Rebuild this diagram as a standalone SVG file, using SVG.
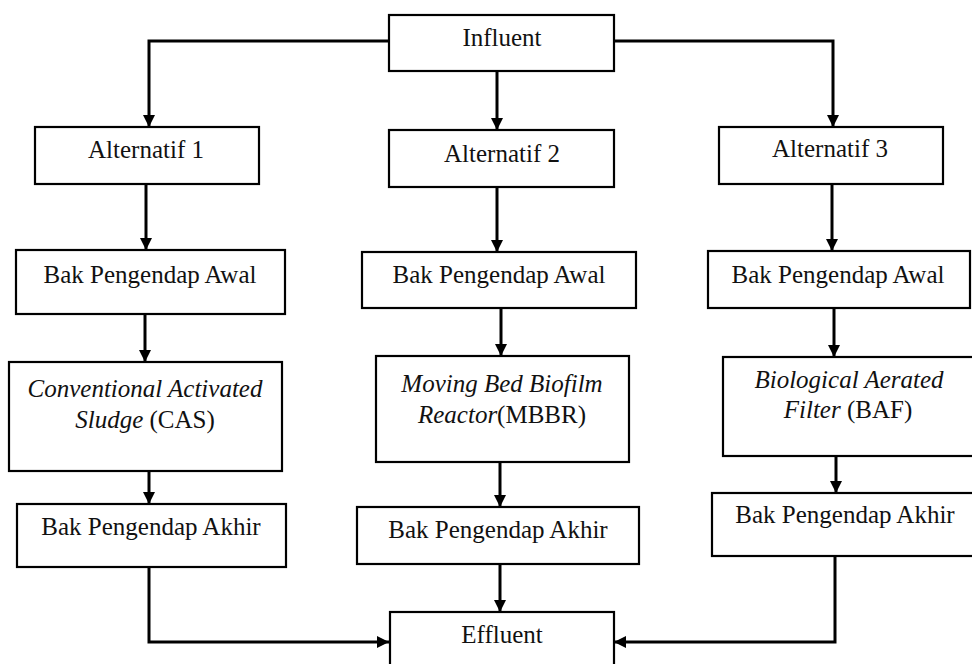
<svg xmlns="http://www.w3.org/2000/svg" width="972" height="664" viewBox="0 0 972 664">
<style>
.box{fill:#fff;stroke:#000;stroke-width:2.2}
.t{font-family:"Liberation Serif","Times New Roman",serif;font-size:25px;fill:#111;text-anchor:middle}
.i{font-style:italic}
.c{fill:none;stroke:#000;stroke-width:3}
</style>
<defs>
<marker id="ah" markerUnits="userSpaceOnUse" markerWidth="13" markerHeight="13" refX="12" refY="6" orient="auto">
<path d="M0,0 L12,6 L0,12 z" fill="#000"/>
</marker>
</defs>
<rect width="972" height="664" fill="#fff"/>
<g id="connectors">
<path class="c" marker-end="url(#ah)" d="M389,41 H149 V127"/>
<path class="c" marker-end="url(#ah)" d="M497,71 V130"/>
<path class="c" marker-end="url(#ah)" d="M614,41 H833 V127"/>
<path class="c" marker-end="url(#ah)" d="M146,184 V250"/>
<path class="c" marker-end="url(#ah)" d="M497,187 V252"/>
<path class="c" marker-end="url(#ah)" d="M832,184 V251"/>
<path class="c" marker-end="url(#ah)" d="M145,314 V362"/>
<path class="c" marker-end="url(#ah)" d="M501,308 V356"/>
<path class="c" marker-end="url(#ah)" d="M834,308 V357"/>
<path class="c" marker-end="url(#ah)" d="M149,471 V504"/>
<path class="c" marker-end="url(#ah)" d="M500,462 V507"/>
<path class="c" marker-end="url(#ah)" d="M836,456 V493"/>
<path class="c" marker-end="url(#ah)" d="M149,567 V642 H389"/>
<path class="c" marker-end="url(#ah)" d="M500,564 V612"/>
<path class="c" marker-end="url(#ah)" d="M835,556 V642 H614"/>
</g>
<g id="influent"><rect class="box" x="389" y="15" width="225" height="56"/><text class="t" x="502" y="46">Influent</text></g>
<g id="alt1"><rect class="box" x="35" y="127" width="224" height="57"/><text class="t" x="146" y="158">Alternatif 1</text></g>
<g id="alt2"><rect class="box" x="389" y="130" width="225" height="57"/><text class="t" x="502" y="162">Alternatif 2</text></g>
<g id="alt3"><rect class="box" x="719" y="127" width="224" height="57"/><text class="t" x="830" y="157">Alternatif 3</text></g>
<g id="awal1"><rect class="box" x="16" y="250" width="269" height="64"/><text class="t" x="150" y="283">Bak Pengendap Awal</text></g>
<g id="awal2"><rect class="box" x="362" y="252" width="274" height="56"/><text class="t" x="499" y="283">Bak Pengendap Awal</text></g>
<g id="awal3"><rect class="box" x="708" y="251" width="262" height="57"/><text class="t" x="838" y="283">Bak Pengendap Awal</text></g>
<g id="cas"><rect class="box" x="9" y="362" width="273" height="109"/><text class="t" x="145" y="397"><tspan class="i">Conventional Activated</tspan></text><text class="t" x="145" y="428"><tspan class="i">Sludge</tspan> (CAS)</text></g>
<g id="mbbr"><rect class="box" x="376" y="356" width="253" height="106"/><text class="t" x="502" y="392"><tspan class="i">Moving Bed Biofilm</tspan></text><text class="t" x="502" y="423"><tspan class="i">Reactor</tspan>(MBBR)</text></g>
<g id="baf"><rect class="box" x="723" y="357" width="270" height="99"/><text class="t" x="849" y="388"><tspan class="i">Biological Aerated</tspan></text><text class="t" x="848" y="418"><tspan class="i">Filter</tspan> (BAF)</text></g>
<g id="akhir1"><rect class="box" x="17" y="504" width="269" height="63"/><text class="t" x="151" y="535">Bak Pengendap Akhir</text></g>
<g id="akhir2"><rect class="box" x="357" y="507" width="282" height="57"/><text class="t" x="498" y="538">Bak Pengendap Akhir</text></g>
<g id="akhir3"><rect class="box" x="712" y="493" width="280" height="63"/><text class="t" x="845" y="523">Bak Pengendap Akhir</text></g>
<g id="effluent"><rect class="box" x="390" y="612" width="224" height="70"/><text class="t" x="502" y="643">Effluent</text></g>
</svg>
